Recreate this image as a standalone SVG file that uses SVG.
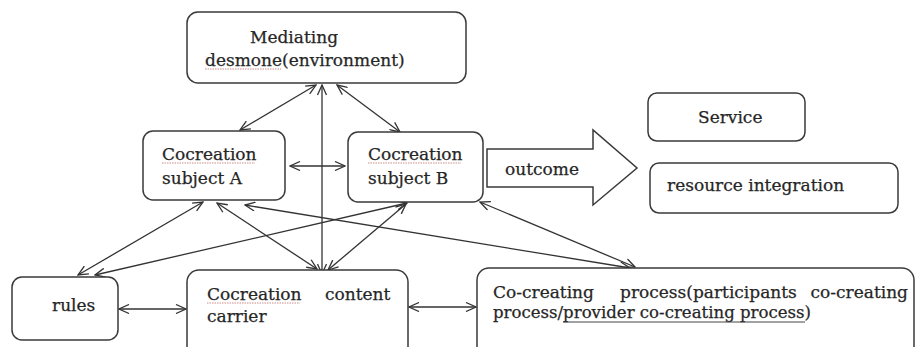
<svg xmlns="http://www.w3.org/2000/svg" width="917" height="347" viewBox="0 0 917 347">
  <style>
    .box { fill: #ffffff; stroke: #3a3a3a; stroke-width: 1.5; }
    .txt { font-family: 'DejaVu Serif', 'Liberation Serif', serif; font-size: 17px; fill: #262626; stroke: #262626; stroke-width: 0.25; }
    .link { fill: none; stroke: #333333; stroke-width: 1.3; marker-start: url(#head); marker-end: url(#head); }
    .spell { stroke: #d08a8a; stroke-width: 1; stroke-dasharray: 1.5 1; }
  </style>
  <defs>
    <marker id="head" viewBox="0 0 12 10" refX="11" refY="5" markerWidth="12" markerHeight="10" markerUnits="userSpaceOnUse" orient="auto-start-reverse">
      <path d="M1,0.5 L11,5 L1,9.5" fill="none" stroke="#333333" stroke-width="1.3"/>
    </marker>
  </defs>
  <rect width="917" height="347" fill="#ffffff"/>

  <!-- connectors -->
  <g id="connectors">
    <line class="link" x1="316" y1="85" x2="240" y2="130"/>
    <line class="link" x1="337" y1="85" x2="400" y2="132"/>
    <line class="link" x1="322" y1="85" x2="322" y2="274"/>
    <line class="link" x1="290" y1="166" x2="345" y2="166"/>
    <line class="link" x1="203" y1="202" x2="78" y2="275"/>
    <line class="link" x1="407" y1="203" x2="95" y2="275"/>
    <line class="link" x1="217" y1="203" x2="317" y2="269"/>
    <line class="link" x1="406" y1="204" x2="328" y2="270"/>
    <line class="link" x1="245" y1="205" x2="630" y2="268"/>
    <line class="link" x1="480" y1="202" x2="635" y2="267"/>
    <line class="link" x1="119" y1="309" x2="186" y2="309"/>
    <line class="link" x1="409" y1="307" x2="476" y2="307"/>
  </g>

  <!-- Mediating desmone -->
  <g id="mediating">
    <rect class="box" x="187" y="12" width="279" height="71" rx="11"/>
    <text class="txt" x="250" y="43">Mediating</text>
    <text class="txt" x="205" y="66">desmone(environment)</text>
    <line class="spell" x1="205" y1="69" x2="281" y2="69"/>
  </g>

  <!-- Cocreation subject A -->
  <g id="subject-a">
    <rect class="box" x="143" y="131" width="142" height="69" rx="10"/>
    <text class="txt" x="162" y="160">Cocreation</text>
    <text class="txt" x="162" y="184">subject A</text>
    <line class="spell" x1="162" y1="163" x2="255" y2="163"/>
  </g>

  <!-- Cocreation subject B -->
  <g id="subject-b">
    <rect class="box" x="348" y="132" width="135" height="70" rx="10"/>
    <text class="txt" x="368" y="160">Cocreation</text>
    <text class="txt" x="368" y="184">subject B</text>
    <line class="spell" x1="368" y1="163" x2="461" y2="163"/>
  </g>

  <!-- outcome block arrow -->
  <g id="outcome">
    <polygon points="487,149 593,149 593,130 637,168 593,205 593,187 487,187" fill="#ffffff" stroke="#3a3a3a" stroke-width="1.5" stroke-linejoin="miter"/>
    <text class="txt" x="505" y="175">outcome</text>
  </g>

  <!-- Service -->
  <g id="service">
    <rect class="box" x="648" y="93" width="157" height="48" rx="9"/>
    <text class="txt" x="698" y="123">Service</text>
  </g>

  <!-- resource integration -->
  <g id="resource-integration">
    <rect class="box" x="650" y="163" width="248" height="50" rx="9"/>
    <text class="txt" x="667" y="191">resource integration</text>
  </g>

  <!-- rules -->
  <g id="rules">
    <rect class="box" x="12" y="277" width="106" height="63" rx="10"/>
    <text class="txt" x="52" y="311">rules</text>
  </g>

  <!-- Cocreation content carrier -->
  <g id="content-carrier">
    <rect class="box" x="187" y="270" width="221" height="95" rx="12"/>
    <text class="txt" x="207" y="300">Cocreation</text>
    <text class="txt" x="325" y="300">content</text>
    <text class="txt" x="207" y="322">carrier</text>
    <line class="spell" x1="207" y1="303" x2="300" y2="303"/>
  </g>

  <!-- Co-creating process -->
  <g id="co-creating-process">
    <rect class="box" x="477" y="268" width="437" height="95" rx="12"/>
    <text class="txt" x="493" y="298">Co-creating</text>
    <text class="txt" x="620" y="298">process(participants</text>
    <text class="txt" x="908" y="298" text-anchor="end">co-creating</text>
    <text class="txt" x="493" y="318" textLength="318" lengthAdjust="spacingAndGlyphs">process/provider co-creating process)</text>
    <line x1="563" y1="322" x2="805" y2="322" stroke="#444444" stroke-width="1"/>
  </g>
</svg>
